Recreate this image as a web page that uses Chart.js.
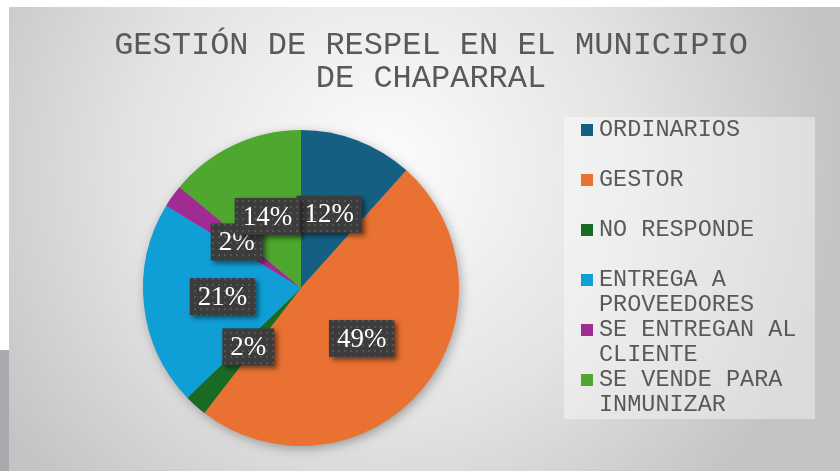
<!DOCTYPE html>
<html>
<head>
<meta charset="utf-8">
<script src="https://cdn.jsdelivr.net/npm/chart.js@4.4.1/dist/chart.umd.min.js"></script>
<style>
  html, body { margin: 0; padding: 0; background: #fff; }
  body { width: 840px; height: 471px; position: relative; overflow: hidden; }
  #panel {
    position: absolute; left: 9px; top: 7px; width: 831px; height: 464px;
    background: radial-gradient(circle farthest-side at 45% 35%, #fdfdfd 0%, #e3e3e3 55%, #c4c4c4 100%);
  }
  #strip { position: absolute; left: 0; top: 350px; width: 9px; height: 121px; background: #a9aaae; }
  #chart { position: absolute; left: 0; top: 0; }
</style>
</head>
<body>
<div id="strip"></div>
<div id="panel"></div>
<canvas id="chart" width="840" height="471"></canvas>
<script>
const titleLines = ['GESTIÓN DE RESPEL EN EL MUNICIPIO', 'DE CHAPARRAL'];
const categories = ['ORDINARIOS', 'GESTOR', 'NO RESPONDE', 'ENTREGA A PROVEEDORES', 'SE ENTREGAN AL CLIENTE', 'SE VENDE PARA INMUNIZAR'];
const responses = [5, 21, 1, 9, 1, 6];
const sliceColors = ['#156082', '#E97132', '#196B24', '#0F9ED5', '#A02B93', '#4EA72E'];

const textGray = '#595959';
const monoFont = '"Liberation Mono", "DejaVu Sans Mono", monospace';

// small dotted texture for the label boxes
function dotPattern(ctx) {
    const c = document.createElement('canvas');
    c.width = 6;
    c.height = 6;
    const p = c.getContext('2d');
    p.fillStyle = '#3c3c3c';
    p.fillRect(0, 0, 6, 6);
    p.fillStyle = '#545454';
    p.fillRect(2, 2, 2, 2);
    return ctx.createPattern(c, 'repeat');
}

function wrapWords(ctx, text, maxWidth) {
    const words = text.split(' ');
    const lines = [];
    let line = '';
    words.forEach(w => {
        const test = line ? line + ' ' + w : w;
        if (line && ctx.measureText(test).width > maxWidth) {
            lines.push(line);
            line = w;
        } else {
            line = test;
        }
    });
    if (line) lines.push(line);
    return lines;
}

const pieShadow = {
    id: 'pieShadow',
    beforeDatasetsDraw(chart) {
        const arc = chart.getDatasetMeta(0).data[0];
        if (!arc) return;
        const ctx = chart.ctx;
        ctx.save();
        ctx.shadowColor = 'rgba(0,0,0,0.35)';
        ctx.shadowBlur = 12;
        ctx.shadowOffsetX = 2;
        ctx.shadowOffsetY = 3;
        ctx.fillStyle = '#999';
        ctx.beginPath();
        ctx.arc(arc.x, arc.y, arc.outerRadius - 1, 0, Math.PI * 2);
        ctx.fill();
        ctx.restore();
    }
};

const boxLabels = {
    id: 'boxLabels',
    afterDatasetsDraw(chart) {
        const ctx = chart.ctx;
        const meta = chart.getDatasetMeta(0);
        const values = chart.data.datasets[0].data;
        const total = values.reduce((a, b) => a + b, 0);
        const fill = dotPattern(ctx);
        ctx.save();
        ctx.font = '27px "Liberation Serif", "DejaVu Serif", serif';
        ctx.textAlign = 'center';
        ctx.textBaseline = 'middle';
        meta.data.forEach((arc, i) => {
            const pos = arc.tooltipPosition();
            const text = Math.round(values[i] / total * 100) + '%';
            const w = ctx.measureText(text).width + 16;
            const h = 37;
            ctx.save();
            ctx.shadowColor = 'rgba(0,0,0,0.5)';
            ctx.shadowBlur = 5;
            ctx.shadowOffsetX = 3;
            ctx.shadowOffsetY = 3;
            ctx.fillStyle = fill;
            ctx.fillRect(pos.x - w / 2, pos.y - h / 2, w, h);
            ctx.restore();
            ctx.fillStyle = '#ffffff';
            ctx.fillText(text, pos.x, pos.y + 1);
        });
        ctx.restore();
    }
};

const chartTitle = {
    id: 'chartTitle',
    afterDraw(chart) {
        const ctx = chart.ctx;
        ctx.save();
        ctx.font = '32px ' + monoFont;
        ctx.fillStyle = textGray;
        ctx.textAlign = 'center';
        ctx.textBaseline = 'middle';
        titleLines.forEach((t, i) => ctx.fillText(t, 431, 46 + i * 33));
        ctx.restore();
    }
};

const sideLegend = {
    id: 'sideLegend',
    afterDraw(chart) {
        const ctx = chart.ctx;
        const box = { left: 564, top: 117, right: 815, bottom: 419 };
        ctx.save();
        ctx.fillStyle = 'rgba(255,255,255,0.4)';
        ctx.fillRect(box.left, box.top, box.right - box.left, box.bottom - box.top);
        ctx.font = '23.5px ' + monoFont;
        ctx.textBaseline = 'middle';
        ctx.textAlign = 'left';
        const colors = chart.data.datasets[0].backgroundColor;
        chart.data.labels.forEach((label, i) => {
            const y = 130 + i * 50;
            ctx.fillStyle = colors[i];
            ctx.fillRect(581, y - 6, 12, 12);
            ctx.fillStyle = textGray;
            wrapWords(ctx, label, 212).forEach((line, j) => {
                ctx.fillText(line, 599, y + j * 25);
            });
        });
        ctx.restore();
    }
};

new Chart(document.getElementById('chart'), {
    type: 'pie',
    data: {
        labels: categories,
        datasets: [{
            data: responses,
            backgroundColor: sliceColors,
            borderWidth: 0
        }]
    },
    options: {
        responsive: false,
        animation: false,
        devicePixelRatio: 1,
        layout: { padding: { left: 143, right: 381, top: 130, bottom: 25 } },
        plugins: {
            legend: { display: false },
            title: { display: false },
            tooltip: { enabled: false }
        }
    },
    plugins: [pieShadow, boxLabels, chartTitle, sideLegend]
});
</script>
</body>
</html>
